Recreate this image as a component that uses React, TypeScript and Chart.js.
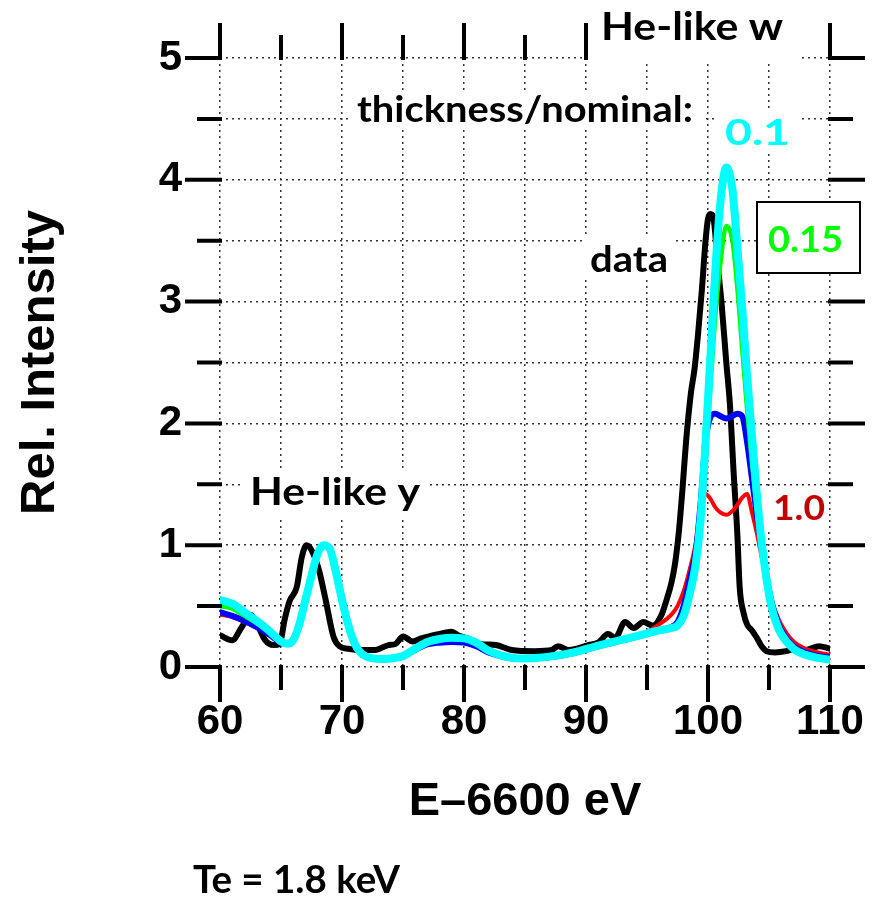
import React, { useEffect, useRef } from 'react';
import { Chart, registerables } from 'chart.js';

Chart.register(...registerables);

// ---- values ----
const modelX = [60, 61, 62, 63, 64, 65, 65.5, 66, 66.5, 67, 67.5, 68, 68.5, 69, 69.5, 70, 70.5, 71, 71.5, 72, 73, 74, 75, 76, 77, 78, 79, 80, 81, 82, 83, 84, 85, 87, 89, 91, 93, 95, 96, 97, 97.5, 98, 98.5, 99, 99.4, 99.8, 100.2, 100.6, 101, 101.5, 102, 102.4, 102.8, 103.2, 103.6, 104, 104.4, 104.8, 105.2, 105.6, 106, 107, 108, 109, 110];

// thickness/nominal = 0.1
const cyanY = [0.55, 0.52, 0.45, 0.38, 0.3, 0.21, 0.19, 0.22, 0.35, 0.55, 0.75, 0.93, 1.0, 0.97, 0.78, 0.55, 0.35, 0.2, 0.12, 0.085, 0.065, 0.07, 0.09, 0.15, 0.205, 0.23, 0.24, 0.235, 0.2, 0.135, 0.095, 0.075, 0.07, 0.085, 0.12, 0.175, 0.225, 0.275, 0.3, 0.32, 0.34, 0.42, 0.6, 0.85, 1.22, 1.85, 2.55, 3.25, 3.8, 4.1, 3.92, 3.45, 2.95, 2.4, 1.9, 1.42, 1.02, 0.72, 0.5, 0.36, 0.27, 0.15, 0.1, 0.075, 0.06];
// thickness/nominal = 0.15
const greenY = [0.5, 0.48, 0.42, 0.36, 0.29, 0.2, 0.19, 0.22, 0.35, 0.55, 0.75, 0.93, 1.0, 0.97, 0.79, 0.56, 0.36, 0.2, 0.12, 0.085, 0.065, 0.07, 0.09, 0.15, 0.2, 0.225, 0.23, 0.225, 0.195, 0.13, 0.095, 0.075, 0.07, 0.085, 0.12, 0.175, 0.225, 0.275, 0.3, 0.32, 0.35, 0.45, 0.63, 0.88, 1.2, 1.72, 2.3, 2.88, 3.3, 3.62, 3.5, 3.12, 2.62, 2.12, 1.68, 1.3, 0.98, 0.7, 0.5, 0.37, 0.28, 0.15, 0.1, 0.075, 0.065];
// intermediate thickness
const blueY = [0.45, 0.42, 0.38, 0.33, 0.27, 0.2, 0.19, 0.22, 0.34, 0.54, 0.74, 0.93, 1.0, 0.97, 0.8, 0.57, 0.36, 0.21, 0.12, 0.085, 0.065, 0.068, 0.085, 0.14, 0.185, 0.2, 0.205, 0.2, 0.17, 0.12, 0.09, 0.07, 0.068, 0.08, 0.115, 0.17, 0.22, 0.27, 0.3, 0.33, 0.37, 0.5, 0.72, 0.95, 1.35, 1.85, 2.05, 2.08, 2.06, 2.04, 2.06, 2.08, 2.06, 1.85, 1.55, 1.25, 0.98, 0.74, 0.54, 0.4, 0.3, 0.17, 0.12, 0.09, 0.08];
// thickness/nominal = 1.0
const redY = [0.43, 0.41, 0.37, 0.32, 0.27, 0.2, 0.19, 0.22, 0.33, 0.52, 0.73, 0.92, 1.0, 0.98, 0.82, 0.6, 0.38, 0.22, 0.13, 0.09, 0.07, 0.07, 0.09, 0.14, 0.19, 0.205, 0.21, 0.205, 0.175, 0.125, 0.095, 0.08, 0.075, 0.09, 0.125, 0.18, 0.23, 0.29, 0.35, 0.43, 0.5, 0.62, 0.8, 1.02, 1.3, 1.42, 1.38, 1.31, 1.27, 1.25, 1.28, 1.33, 1.39, 1.42, 1.27, 1.1, 0.9, 0.7, 0.55, 0.44, 0.35, 0.21, 0.15, 0.12, 0.1];

// measured data
const dataX = [60, 61, 61.8, 62.5, 63.0, 63.7, 64.4, 64.9, 65.3, 65.7, 66.3, 66.7, 67.1, 67.5, 68.1, 68.6, 69.3, 69.8, 70.5, 71.6, 72.7, 73.8, 74.4, 75.0, 75.8, 76.5, 77.9, 79.0, 79.5, 80.3, 81.3, 82.6, 83.9, 85.8, 87.2, 87.7, 88.6, 90.2, 91.0, 91.8, 92.4, 93.2, 93.9, 94.7, 95.5, 96.2, 96.6, 97.0, 97.3, 97.6, 97.9, 98.2, 98.6, 98.9, 99.2, 99.5, 99.8, 100.0, 100.2, 100.5, 100.8, 101.1, 101.5, 101.8, 102.1, 102.4, 102.6, 102.9, 103.2, 103.6, 104.0, 104.4, 104.8, 105.5, 106.4, 107.5, 108.0, 109.1, 110];
const dataY = [0.26, 0.22, 0.33, 0.43, 0.36, 0.22, 0.18, 0.19, 0.39, 0.54, 0.66, 0.9, 1.0, 0.96, 0.8, 0.58, 0.25, 0.17, 0.15, 0.14, 0.14, 0.18, 0.19, 0.25, 0.21, 0.235, 0.27, 0.29, 0.26, 0.235, 0.19, 0.18, 0.14, 0.13, 0.14, 0.17, 0.14, 0.18, 0.2, 0.27, 0.24, 0.37, 0.32, 0.37, 0.34, 0.43, 0.55, 0.69, 0.85, 1.1, 1.45, 1.85, 2.25, 2.45, 2.75, 3.1, 3.5, 3.68, 3.72, 3.65, 3.3, 3.0, 2.5, 2.15, 1.6, 1.1, 0.65, 0.45, 0.35, 0.3, 0.24, 0.17, 0.13, 0.12, 0.13, 0.16, 0.14, 0.17, 0.15];

const xMin = 60;
const xMax = 110;
const xStep = 5;
const yMin = 0;
const yMax = 5;
const yStep = 0.5;

const xTitle = 'E\u20136600 eV';
const yTitle = 'Rel. Intensity';

// ---- styling / layout ----
const AXIS_FONT = "'Liberation Sans', Arial, Helvetica, sans-serif";
const NOTE_FONT = "Lato, 'Open Sans', 'Liberation Sans', sans-serif";
const MAJOR_TICK = 33;
const MINOR_TICK = 21;

type Note = { text: string; left: number; base: number; size: number; width: number; color: string; bg?: [number, number, number, number]; box?: boolean };

const notes: Note[] = [
  { text: 'He-like w', left: 601, base: 40, size: 39, width: 182, color: '#000', bg: [588, 0, 214, 63] },
  { text: 'thickness/nominal:', left: 357, base: 122, size: 36, width: 336, color: '#000', bg: [350, 90, 352, 40] },
  { text: '0.1', left: 725, base: 145, size: 37, width: 65, color: '#00ffff', bg: [718, 112, 80, 40] },
  { text: '0.15', left: 768, base: 252, size: 37, width: 75, color: '#00ff00', bg: [757, 202, 103, 71], box: true },
  { text: 'data', left: 590, base: 272, size: 37, width: 78, color: '#000', bg: [583, 238, 92, 42] },
  { text: 'He-like y', left: 250, base: 505, size: 38, width: 170, color: '#000', bg: [243, 472, 184, 48] },
  { text: '1.0', left: 773, base: 520, size: 35, width: 52, color: '#c00000', bg: [766, 488, 62, 40] },
  { text: 'Te = 1.8 keV', left: 193, base: 893, size: 38, width: 207, color: '#000' },
];

function pts(xs: number[], ys: number[]) {
  return xs.map((x, i) => ({ x, y: ys[i] }));
}

const tickPlugin = {
  id: 'outerTicks',
  afterDatasetsDraw(chart: any) {
    const { ctx, chartArea } = chart;
    const { left, right, top, bottom } = chartArea;
    const xs = chart.scales.x;
    const ys = chart.scales.y;
    ctx.save();
    ctx.strokeStyle = '#000';
    ctx.lineWidth = 4;
    ctx.lineCap = 'square';
    ctx.beginPath();
    for (const t of xs.ticks) {
      const v = t.value;
      const px = xs.getPixelForValue(v);
      const len = Math.abs(v % 10) < 1e-6 ? MAJOR_TICK : MINOR_TICK;
      ctx.moveTo(px, bottom);
      ctx.lineTo(px, bottom + len);
      ctx.moveTo(px, top);
      ctx.lineTo(px, top - len);
    }
    for (const t of ys.ticks) {
      const v = t.value;
      const py = ys.getPixelForValue(v);
      const len = Math.abs(v - Math.round(v)) < 1e-6 ? MAJOR_TICK : MINOR_TICK;
      ctx.moveTo(left, py);
      ctx.lineTo(left - len, py);
      ctx.moveTo(right, py);
      ctx.lineTo(right + len, py);
    }
    ctx.stroke();
    ctx.restore();
  },
};

const notesPlugin = {
  id: 'notes',
  afterDraw(chart: any) {
    const ctx = chart.ctx as CanvasRenderingContext2D;
    for (const n of notes) {
      ctx.save();
      if (n.bg) {
        ctx.fillStyle = '#fff';
        ctx.fillRect(n.bg[0], n.bg[1], n.bg[2], n.bg[3]);
        if (n.box) {
          ctx.strokeStyle = '#000';
          ctx.lineWidth = 2;
          ctx.strokeRect(n.bg[0], n.bg[1], n.bg[2], n.bg[3]);
        }
      }
      ctx.font = `bold ${n.size}px ${NOTE_FONT}`;
      ctx.fillStyle = n.color;
      ctx.textAlign = 'left';
      ctx.textBaseline = 'alphabetic';
      const w = ctx.measureText(n.text).width;
      ctx.translate(n.left, n.base);
      ctx.scale(n.width / w, 1);
      ctx.fillText(n.text, 0, 0);
      ctx.restore();
    }
  },
};

export default function App() {
  const ref = useRef<HTMLCanvasElement>(null);

  useEffect(() => {
    document.body.style.margin = '0';
    const canvas = ref.current!;
    const line = (label: string, xs: number[], ys: number[], color: string, width: number) => ({
      label,
      data: pts(xs, ys),
      borderColor: color,
      backgroundColor: color,
      borderWidth: width,
      pointRadius: 0,
      fill: false,
      cubicInterpolationMode: 'monotone' as const,
      borderJoinStyle: 'round' as const,
      borderCapStyle: 'round' as const,
    });

    const chart = new Chart(canvas, {
      type: 'line',
      data: {
        datasets: [
          line('0.1', modelX, cyanY, '#00ffff', 8),
          line('0.15', modelX, greenY, '#00ff00', 4.5),
          line('0.5', modelX, blueY, '#0000ff', 6),
          line('1.0', modelX, redY, '#ff0000', 4),
          line('data', dataX, dataY, '#000000', 6),
        ],
      },
      options: {
        responsive: false,
        animation: false,
        devicePixelRatio: 1,
        layout: { padding: { top: 58, right: 49, bottom: 0, left: 0 } },
        plugins: { legend: { display: false }, tooltip: { enabled: false } },
        elements: { point: { radius: 0 } },
        scales: {
          x: {
            type: 'linear',
            min: xMin,
            max: xMax,
            afterFit: (s: any) => { s.height = 231; s.paddingLeft = 0; s.paddingRight = 0; },
            ticks: {
              stepSize: xStep,
              autoSkip: false,
              maxRotation: 0,
              padding: 30,
              color: '#000',
              font: { family: AXIS_FONT, size: 42, weight: 'bold' },
              callback: (v: any) => (Math.abs(Number(v) % 10) < 1e-6 ? String(v) : ''),
            },
            grid: { color: '#333', lineWidth: 1.5, drawTicks: false },
            border: { display: false, dash: [2, 4] },
            title: {
              display: true,
              text: xTitle,
              color: '#000',
              font: { family: AXIS_FONT, size: 47, weight: 'bold' },
              padding: { top: 0, bottom: 68 },
            },
          },
          y: {
            type: 'linear',
            min: yMin,
            max: yMax,
            afterFit: (s: any) => { s.width = 220; s.paddingTop = 0; s.paddingBottom = 0; },
            ticks: {
              stepSize: yStep,
              autoSkip: false,
              padding: 38,
              color: '#000',
              font: { family: AXIS_FONT, size: 42, weight: 'bold' },
              callback: (v: any) => (Number.isInteger(Number(v)) ? String(v) : ''),
            },
            grid: { color: '#333', lineWidth: 1.5, drawTicks: false },
            border: { display: false, dash: [2, 4] },
            title: {
              display: true,
              text: yTitle,
              color: '#000',
              font: { family: AXIS_FONT, size: 49, weight: 'bold' },
              padding: { top: 11, bottom: 0 },
            },
          },
        },
      },
      plugins: [tickPlugin, notesPlugin],
    } as any);

    return () => chart.destroy();
  }, []);

  return (
    <div style={{ position: 'absolute', left: 0, top: 0, width: 879, height: 898, background: '#fff' }}>
      <canvas ref={ref} width={879} height={898} style={{ width: 879, height: 898, display: 'block' }} />
    </div>
  );
}
